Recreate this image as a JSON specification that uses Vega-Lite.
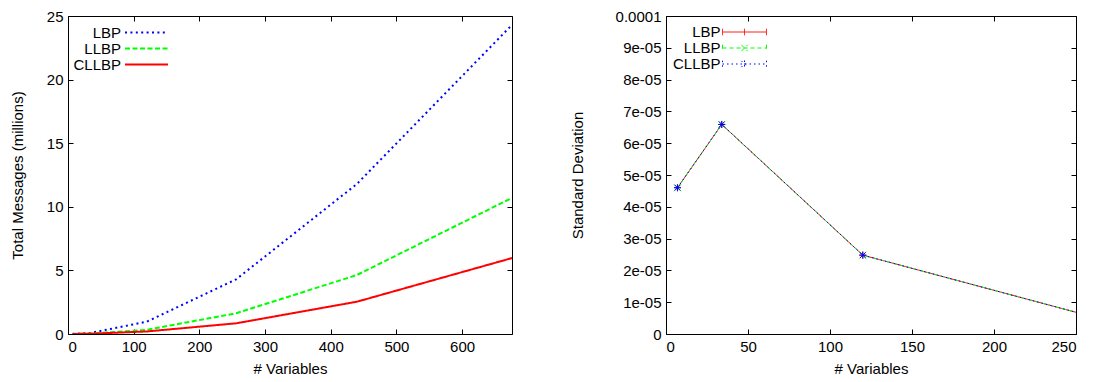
{
  "$schema": "https://vega.github.io/schema/vega-lite/v6.json",
  "background": "white",
  "padding": {"left": 9, "top": 8, "right": 5, "bottom": 0},
  "config": {
    "font": "Liberation Sans",
    "view": {"stroke": "#000", "strokeWidth": 1},
    "axis": {
      "domain": false, "grid": false, "ticks": true, "tickSize": -5, "tickColor": "#000", "tickWidth": 1,
      "labelFont": "Liberation Sans", "labelFontSize": 15, "labelColor": "#000", "labelPadding": 10,
      "titleFont": "Liberation Sans", "titleFontSize": 15, "titleFontWeight": "normal", "titleColor": "#000"
    },
    "legend": {
      "labelFont": "Liberation Sans", "labelFontSize": 15, "labelColor": "#000", "title": null
    }
  },
  "spacing": 154,
  "bounds": "flush",
  "resolve": {
    "scale": {"x": "independent", "y": "independent", "color": "independent", "strokeDash": "independent"},
    "legend": {"color": "independent", "strokeDash": "independent"}
  },
  "hconcat": [
    {
      "width": 444,
      "height": 318,
      "data": {"values": [
        {"vars": 7, "msgs": 0.01, "series": "LBP"},
        {"vars": 34, "msgs": 0.08, "series": "LBP"},
        {"vars": 120, "msgs": 0.97, "series": "LBP"},
        {"vars": 256, "msgs": 4.3, "series": "LBP"},
        {"vars": 440, "msgs": 11.8, "series": "LBP"},
        {"vars": 676, "msgs": 24.3, "series": "LBP"},
        {"vars": 7, "msgs": 0.005, "series": "LLBP"},
        {"vars": 34, "msgs": 0.04, "series": "LLBP"},
        {"vars": 120, "msgs": 0.33, "series": "LLBP"},
        {"vars": 256, "msgs": 1.63, "series": "LLBP"},
        {"vars": 440, "msgs": 4.64, "series": "LLBP"},
        {"vars": 676, "msgs": 10.7, "series": "LLBP"},
        {"vars": 7, "msgs": 0.003, "series": "CLLBP"},
        {"vars": 34, "msgs": 0.02, "series": "CLLBP"},
        {"vars": 120, "msgs": 0.2, "series": "CLLBP"},
        {"vars": 256, "msgs": 0.84, "series": "CLLBP"},
        {"vars": 440, "msgs": 2.54, "series": "CLLBP"},
        {"vars": 676, "msgs": 5.97, "series": "CLLBP"}
      ]},
      "layer": [
        {
          "mark": {"type": "line", "strokeWidth": 2, "strokeCap": "butt", "clip": true},
          "encoding": {
            "x": {"field": "vars", "type": "quantitative", "scale": {"domain": [0, 676], "nice": false, "zero": false},
                  "axis": {"orient": "bottom", "values": [0, 100, 200, 300, 400, 500, 600], "title": "# Variables", "titlePadding": 7}},
            "y": {"field": "msgs", "type": "quantitative", "scale": {"domain": [0, 25], "nice": false},
                  "axis": {"orient": "left", "values": [0, 5, 10, 15, 20, 25], "title": "Total Messages (millions)", "titlePadding": 21}},
            "color": {"field": "series", "type": "nominal",
                      "scale": {"domain": ["LBP", "LLBP", "CLLBP"], "range": ["#0000ff", "#00ff00", "#ff0000"]},
                      "legend": {"orient": "none", "legendX": 0, "legendY": 8.5, "symbolType": "M-3.07,0H3.07", "symbolSize": 196,
                                 "symbolStrokeWidth": 2, "labelAlign": "right", "symbolOffset": 70.5, "labelOffset": -33.5,
                                 "rowPadding": 0, "padding": 0}},
            "strokeDash": {"field": "series", "type": "nominal",
                           "scale": {"domain": ["LBP", "LLBP", "CLLBP"], "range": [[2, 3.4], [5, 2.5], [1, 0]]}},
            "order": {"field": "vars", "type": "quantitative"}
          }
        },
        {
          "mark": {"type": "point", "opacity": 0},
          "encoding": {
            "x": {"field": "vars", "type": "quantitative", "axis": {"orient": "top", "labels": false, "title": null, "values": [0, 100, 200, 300, 400, 500, 600]}},
            "y": {"field": "msgs", "type": "quantitative", "axis": {"orient": "right", "labels": false, "title": null, "values": [0, 5, 10, 15, 20, 25]}}
          }
        }
      ],
      "resolve": {"axis": {"x": "independent", "y": "independent"}}
    },
    {
      "width": 410,
      "height": 318,
      "data": {"values": [
        {"vars": 7, "sd": 4.6e-5, "series": "LBP"},
        {"vars": 34, "sd": 6.59e-5, "series": "LBP"},
        {"vars": 120, "sd": 2.48e-5, "series": "LBP"},
        {"vars": 256, "sd": 0.6e-5, "series": "LBP"},
        {"vars": 7, "sd": 4.6e-5, "series": "LLBP"},
        {"vars": 34, "sd": 6.59e-5, "series": "LLBP"},
        {"vars": 120, "sd": 2.48e-5, "series": "LLBP"},
        {"vars": 256, "sd": 0.6e-5, "series": "LLBP"},
        {"vars": 7, "sd": 4.6e-5, "series": "CLLBP"},
        {"vars": 34, "sd": 6.59e-5, "series": "CLLBP"},
        {"vars": 120, "sd": 2.48e-5, "series": "CLLBP"},
        {"vars": 256, "sd": 0.6e-5, "series": "CLLBP"}
      ]},
      "layer": [
        {
          "mark": {"type": "line", "strokeWidth": 1, "strokeCap": "butt", "clip": true},
          "encoding": {
            "x": {"field": "vars", "type": "quantitative", "scale": {"domain": [0, 250], "nice": false, "zero": false},
                  "axis": {"orient": "bottom", "values": [0, 50, 100, 150, 200, 250], "title": "# Variables", "titlePadding": 7}},
            "y": {"field": "sd", "type": "quantitative", "scale": {"domain": [0, 0.0001], "nice": false},
                  "axis": {"orient": "left", "values": [0, 1e-5, 2e-5, 3e-5, 4e-5, 5e-5, 6e-5, 7e-5, 8e-5, 9e-5, 0.0001],
                           "labelExpr": "datum.value == 0 ? '0' : datum.value > 0.0000999 ? '0.0001' : replace(format(datum.value, '.0e'), 'e-', 'e-0')",
                           "title": "Standard Deviation", "titlePadding": 30}},
            "color": {"field": "series", "type": "nominal",
                      "scale": {"domain": ["LBP", "LLBP", "CLLBP"], "range": ["#ff0000", "#00ff00", "#0000ff"]},
                      "legend": {"orient": "none", "legendX": 0, "legendY": 8.5, "symbolType": "M-3.14,0H3.14", "symbolSize": 196,
                                 "symbolStrokeWidth": 1, "labelAlign": "right", "symbolOffset": 71, "labelOffset": -31.5,
                                 "rowPadding": 0, "padding": 0,
                                 "encode": {"symbols": {"update": {"shape": {"signal": "datum.value === 'LBP' ? 'M-3.14,0H3.14M-3.14,-0.47V0.47M3.14,-0.47V0.47M0,-0.47V0.47' : datum.value === 'LLBP' ? 'M-3.14,0H3.14M-3.14,-0.47V0.47M3.14,-0.47V0.47M-0.45,-0.45L0.45,0.45M-0.45,0.45L0.45,-0.45' : 'M-3.14,0H3.14M-3.14,-0.47V0.47M3.14,-0.47V0.47M0,-0.5V0.5M-0.45,-0.45L0.45,0.45M-0.45,0.45L0.45,-0.45'"}}}}}},
            "strokeDash": {"field": "series", "type": "nominal",
                           "scale": {"domain": ["LBP", "LLBP", "CLLBP"], "range": [[1, 0], [4, 3], [1.5, 3]]}},
            "order": {"field": "vars", "type": "quantitative"}
          }
        },
        {
          "transform": [{"filter": "datum.series === 'LBP'"}],
          "mark": {"type": "point", "filled": false, "strokeWidth": 1, "size": 49, "opacity": 1, "clip": true, "color": "#ff0000", "shape": "M-1,0H1M0,-1V1"},
          "encoding": {
            "x": {"field": "vars", "type": "quantitative", "axis": null},
            "y": {"field": "sd", "type": "quantitative", "axis": null}
          }
        },
        {
          "transform": [{"filter": "datum.series === 'LLBP'"}],
          "mark": {"type": "point", "filled": false, "strokeWidth": 1, "size": 49, "opacity": 1, "clip": true, "color": "#00ff00", "shape": "M-1,-1L1,1M-1,1L1,-1"},
          "encoding": {
            "x": {"field": "vars", "type": "quantitative", "axis": null},
            "y": {"field": "sd", "type": "quantitative", "axis": null}
          }
        },
        {
          "transform": [{"filter": "datum.series === 'CLLBP'"}],
          "mark": {"type": "point", "filled": false, "strokeWidth": 1, "size": 49, "opacity": 1, "clip": true, "color": "#0000ff", "shape": "M-1,0H1M0,-1V1M-0.8,-0.8L0.8,0.8M-0.8,0.8L0.8,-0.8"},
          "encoding": {
            "x": {"field": "vars", "type": "quantitative", "axis": null},
            "y": {"field": "sd", "type": "quantitative", "axis": null}
          }
        },
        {
          "mark": {"type": "point", "opacity": 0},
          "encoding": {
            "x": {"field": "vars", "type": "quantitative", "axis": {"orient": "top", "labels": false, "title": null, "values": [0, 50, 100, 150, 200, 250]}},
            "y": {"field": "sd", "type": "quantitative", "axis": {"orient": "right", "labels": false, "title": null, "values": [0, 1e-5, 2e-5, 3e-5, 4e-5, 5e-5, 6e-5, 7e-5, 8e-5, 9e-5, 0.0001]}}
          }
        }
      ],
      "resolve": {"axis": {"x": "independent", "y": "independent"}}
    }
  ]
}
